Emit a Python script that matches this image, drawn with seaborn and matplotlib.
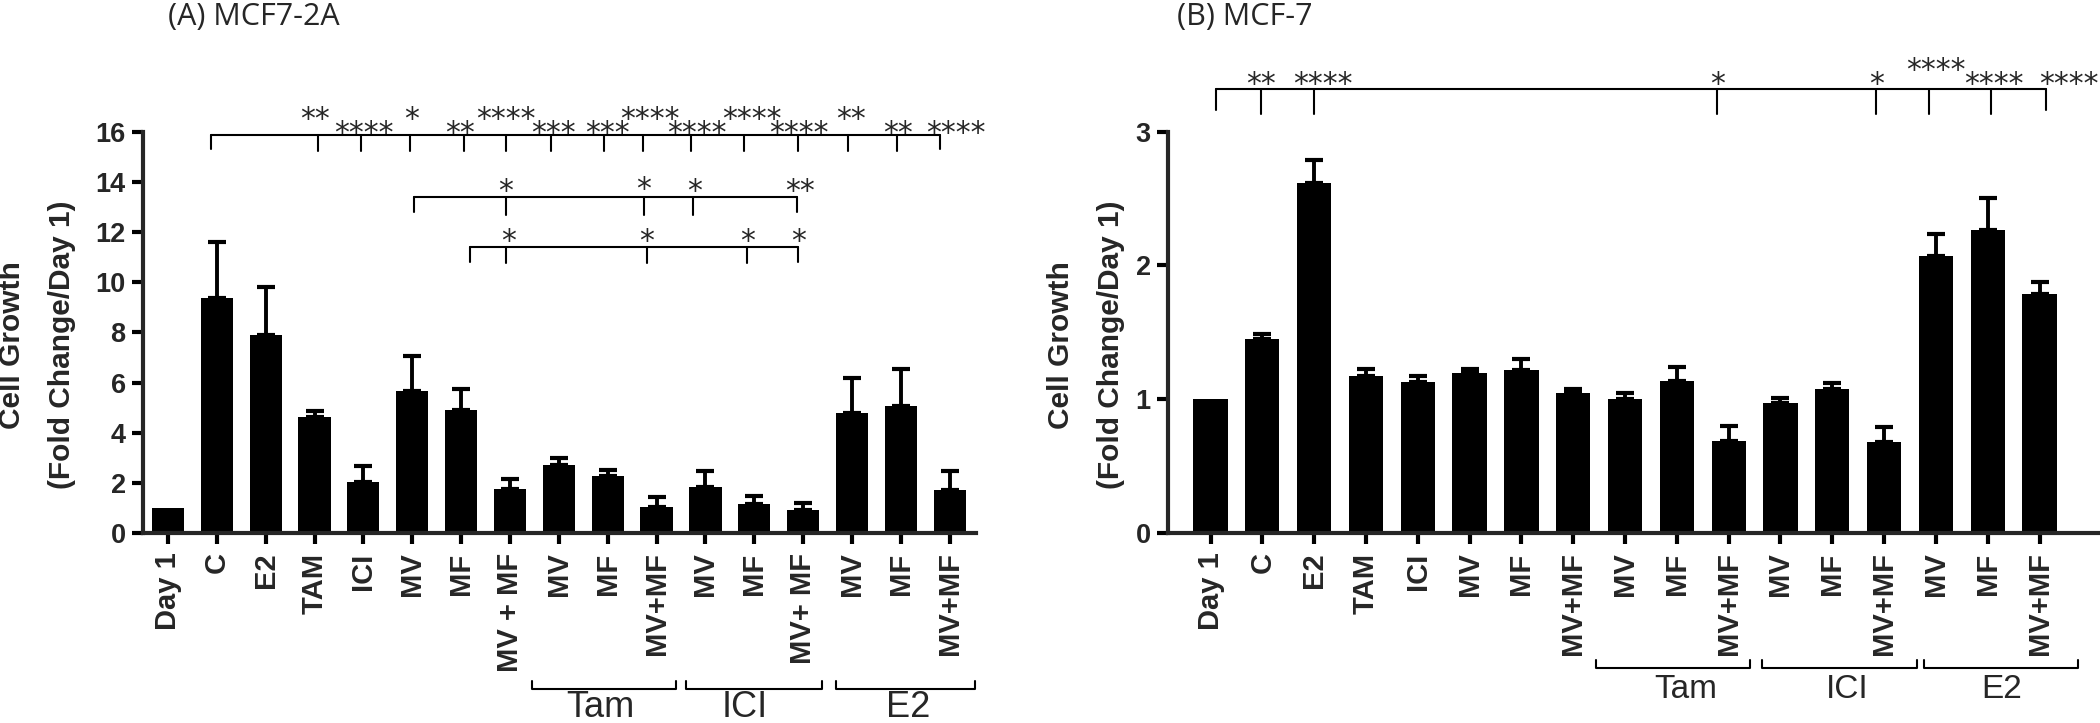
import numpy as np
import pandas as pd
import seaborn as sns
import matplotlib.pyplot as plt
from matplotlib.transforms import ScaledTranslation, blended_transform_factory

# ---- data ----
labels_a = ['Day 1', 'C', 'E2', 'TAM', 'ICI', 'MV', 'MF', 'MV + MF',
            'MV', 'MF', 'MV+MF', 'MV', 'MF', 'MV+ MF', 'MV', 'MF', 'MV+MF']
mean_a = [1.0, 9.38, 7.89, 4.63, 2.03, 5.67, 4.91, 1.75,
          2.71, 2.29, 1.05, 1.85, 1.16, 0.92, 4.77, 5.05, 1.73]
err_a = [0.0, 2.23, 1.91, 0.24, 0.66, 1.38, 0.82, 0.41,
         0.29, 0.23, 0.40, 0.64, 0.31, 0.29, 1.43, 1.47, 0.76]

labels_b = ['Day 1', 'C', 'E2', 'TAM', 'ICI', 'MV', 'MF', 'MV+MF',
            'MV', 'MF', 'MV+MF', 'MV', 'MF', 'MV+MF', 'MV', 'MF', 'MV+MF']
mean_b = [1.0, 1.452, 2.62, 1.176, 1.128, 1.196, 1.219, 1.048,
          1.003, 1.133, 0.686, 0.97, 1.078, 0.681, 2.074, 2.262, 1.785]
err_b = [0.0, 0.035, 0.17, 0.048, 0.043, 0.03, 0.08, 0.032,
         0.047, 0.107, 0.113, 0.043, 0.04, 0.11, 0.161, 0.245, 0.095]

# treatment groups under the x labels: (name, from, to, label x)
groups_a = [('Tam', 7.45, 10.4, 8.85), ('ICI', 10.6, 13.39, 11.81), ('E2', 13.67, 16.52, 15.15)]
groups_b = [('Tam', 7.44, 10.41, 9.17), ('ICI', 10.64, 13.63, 12.28), ('E2', 13.77, 16.74, 15.26)]

# significance brackets: line y, drop positions, end drop bottom, inner tick bottom
brackets_a = [
    (15.88, [0.88, 3.07, 3.95, 4.96, 6.06, 6.91, 7.85, 8.93, 9.72, 10.71,
             11.79, 12.89, 13.92, 14.92, 15.8], 15.3, 15.22),
    (13.40, [5.03, 6.92, 9.74, 10.75, 12.87], 12.8, 12.69),
    (11.40, [6.19, 6.92, 9.81, 11.85, 12.9], 10.8, 10.76),
]
stars_a = [(3.0, 16.64, '**'), (4.01, 16.11, '****'), (4.99, 16.64, '*'),
           (5.97, 16.11, '**'), (6.91, 16.64, '****'), (7.88, 16.11, '***'),
           (9.0, 16.11, '***'), (9.86, 16.64, '****'), (10.83, 16.11, '****'),
           (11.95, 16.64, '****'), (12.92, 16.11, '****'), (13.98, 16.64, '**'),
           (14.94, 16.11, '**'), (16.12, 16.11, '****'),
           (6.92, 13.78, '*'), (9.74, 13.86, '*'), (10.78, 13.78, '*'), (12.93, 13.78, '**'),
           (6.97, 11.78, '*'), (9.80, 11.78, '*'), (11.87, 11.78, '*'), (12.9, 11.78, '*')]

brackets_b = [
    (3.322, [0.10, 0.98, 1.99, 9.78, 12.85, 13.87, 15.07, 16.13], 3.165, 3.13),
]
stars_b = [(0.98, 3.386, '**'), (2.17, 3.386, '****'), (9.78, 3.386, '*'),
           (12.86, 3.386, '*'), (13.99, 3.491, '****'), (15.12, 3.386, '****'),
           (16.57, 3.386, '****')]

sns.set_style('ticks')
plt.rcParams['font.family'] = ['Liberation Sans', 'DejaVu Sans']

fig = plt.figure(figsize=(21, 7.23), dpi=100)
ax_a = fig.add_axes([0.0681, 0.2628, 0.3967, 0.5550])
ax_b = fig.add_axes([0.5562, 0.2628, 0.4429, 0.5550])

star_fs = 21.5


def draw_panel(ax, labels, mean, err, ylim, yticks, xlim, groups, brackets, stars,
               grp_line, grp_tick, grp_lab, grp_fs, grp_va, ylab_x):
    df = pd.DataFrame({'pos': np.arange(len(labels)), 'growth': mean})
    sns.barplot(data=df, x='pos', y='growth', color='black', saturation=1,
                width=0.66, errorbar=None, linewidth=0, ax=ax)
    err = np.array(err)
    m = err > 0
    ax.errorbar(df.pos[m], df.growth[m], yerr=[np.zeros(m.sum()), err[m]],
                fmt='none', ecolor='black', elinewidth=2.8, capsize=6.5, capthick=3,
                zorder=3)

    ax.set_ylim(*ylim)
    ax.set_xlim(*xlim)
    ax.set_yticks(yticks)
    ax.set_xticks(np.arange(len(labels)))
    ax.set_xticklabels(labels, rotation=90, fontsize=21, fontweight='bold')
    for t in ax.get_yticklabels():
        t.set_fontweight('bold')
        t.set_fontsize(19.5)
    ax.set_xlabel('')
    ax.set_ylabel('Cell Growth\n(Fold Change/Day 1)', fontsize=21.5, fontweight='bold',
                  linespacing=2.0, va='center')
    ax.yaxis.set_label_coords(ylab_x, 0.468)
    sns.despine(ax=ax)
    for s in ['left', 'bottom']:
        ax.spines[s].set_linewidth(3)
    ax.tick_params(axis='both', length=8, width=3, direction='out', color='black')
    ax.tick_params(axis='y', pad=4.5)
    ax.tick_params(axis='x', pad=6)

    # significance brackets
    for y, xs, end_low, tick_low in brackets:
        ax.plot([xs[0], xs[-1]], [y, y], color='black', lw=1.5, clip_on=False)
        for i, x in enumerate(xs):
            low = end_low if i in (0, len(xs) - 1) else tick_low
            ax.plot([x, x], [y, low], color='black', lw=1.5, clip_on=False)
    off = ScaledTranslation(0, -0.42 * star_fs / 72, fig.dpi_scale_trans)
    for x, y, s in stars:
        ax.text(x, y, s, ha='center', va='baseline', fontsize=star_fs,
                family='DejaVu Sans', transform=ax.transData + off, clip_on=False)

    # group brackets below the labels
    tr = blended_transform_factory(ax.transData, ax.transAxes)
    for name, x0, x1, xl in groups:
        ax.plot([x0, x0, x1, x1], [grp_tick, grp_line, grp_line, grp_tick],
                color='black', lw=1.5, transform=tr, clip_on=False)
        ax.text(xl, grp_lab, name, ha='center', va=grp_va, fontsize=grp_fs,
                transform=tr, clip_on=False)


draw_panel(ax_a, labels_a, mean_a, err_a, (0, 16), np.arange(0, 17, 2), (-0.51, 16.54),
           groups_a, brackets_a, stars_a, -0.389, -0.369, -0.392, 26, 'top', -0.1275)
draw_panel(ax_b, labels_b, mean_b, err_b, (0, 3), np.arange(0, 4, 1), (-0.82, 17.13),
           groups_b, brackets_b, stars_b, -0.336, -0.316, -0.391, 24, 'center', -0.0887)

fig.text(0.08, 0.9654, '(A) MCF7-2A', fontsize=22, family=['Open Sans', 'DejaVu Sans'],
         va='baseline')
fig.text(0.5605, 0.9654, '(B) MCF-7', fontsize=22, family=['Open Sans', 'DejaVu Sans'],
         va='baseline')

fig.savefig('out.png', dpi=100)
plt.close(fig)
